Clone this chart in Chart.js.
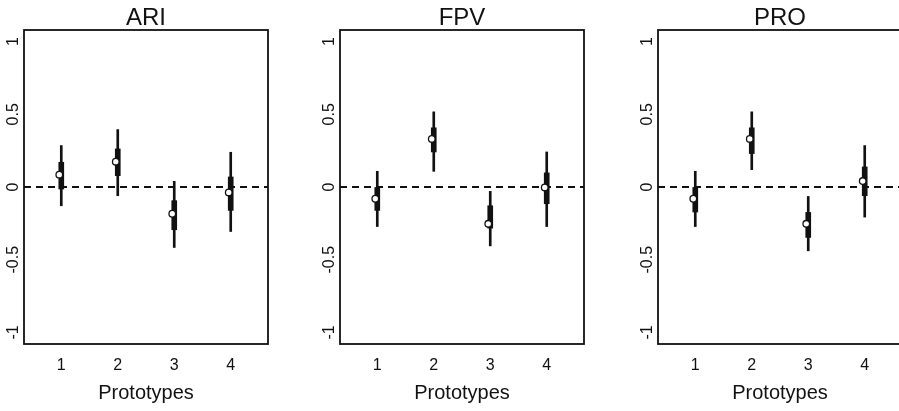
<!DOCTYPE html>
<html>
<head>
<meta charset="utf-8">
<script src="https://cdn.jsdelivr.net/npm/chart.js@4.4.0/dist/chart.umd.min.js"></script>
<style>
  html, body { margin: 0; padding: 0; background: #fff; overflow: hidden; width: 899px; height: 411px; }
  .panel { position: absolute; top: 0; width: 292px; height: 411px; }
</style>
</head>
<body>
<div class="panel" style="left:0px"><canvas id="ari"></canvas></div>
<div class="panel" style="left:316px"><canvas id="fpv"></canvas></div>
<div class="panel" style="left:634px"><canvas id="pro"></canvas></div>
<script>
// values
const prototypes = [1, 2, 3, 4];
const yTicks = [-1, -0.5, 0, 0.5, 1];

const ariEst  = [0.085, 0.174, -0.184, -0.037];
const ariLo95 = [-0.129, -0.060, -0.416, -0.306];
const ariHi95 = [0.285, 0.395, 0.039, 0.239];
const ariLo50 = [-0.014, 0.078, -0.294, -0.161];
const ariHi50 = [0.170, 0.262, -0.094, 0.069];

const fpvEst  = [-0.081, 0.331, -0.253, -0.003];
const fpvLo95 = [-0.272, 0.108, -0.405, -0.272];
const fpvHi95 = [0.108, 0.517, -0.030, 0.241];
const fpvLo50 = [-0.161, 0.241, -0.283, -0.115];
const fpvHi50 = [-0.003, 0.407, -0.129, 0.097];

const proEst  = [-0.081, 0.331, -0.253, 0.041];
const proLo95 = [-0.272, 0.119, -0.439, -0.207];
const proHi95 = [0.108, 0.517, -0.065, 0.285];
const proLo50 = [-0.172, 0.230, -0.347, -0.060];
const proHi50 = [-0.003, 0.407, -0.175, 0.138];

const INK = "#111";
const FONT = '"Liberation Sans", Arial, Helvetica, sans-serif';
const POINT_SHIFT = -0.035; // circle sits a hair left of the bar

// box round the plot, dashed zero line, rotated y labels
const framePlugin = {
  id: "frame",
  beforeDatasetsDraw(chart) {
    const { ctx, chartArea: a, scales: { y } } = chart;
    const py = y.getPixelForValue(0);
    ctx.save();
    ctx.strokeStyle = INK;
    ctx.lineWidth = 1.8;
    ctx.setLineDash([7, 5]);
    ctx.beginPath();
    ctx.moveTo(a.left, py);
    ctx.lineTo(a.right, py);
    ctx.stroke();
    ctx.restore();
  },
  afterDraw(chart) {
    const { ctx, chartArea: a, scales: { y } } = chart;
    ctx.save();
    ctx.strokeStyle = INK;
    ctx.lineWidth = 1.8;
    ctx.strokeRect(a.left, a.top, a.right - a.left, a.bottom - a.top);
    ctx.fillStyle = INK;
    ctx.font = "16px " + FONT;
    ctx.textAlign = "center";
    ctx.textBaseline = "middle";
    y.ticks.forEach((t) => {
      ctx.save();
      ctx.translate(a.left - 10, y.getPixelForValue(t.value));
      ctx.rotate(-Math.PI / 2);
      ctx.fillText(String(t.value), 0, 0);
      ctx.restore();
    });
    ctx.restore();
  }
};

function makePanel(id, title, est, lo95, hi95, lo50, hi50) {
  const thin = prototypes.map((p, i) => ({ x: p, y: [lo95[i], hi95[i]] }));
  const thick = prototypes.map((p, i) => ({ x: p, y: [lo50[i], hi50[i]] }));
  const pts = prototypes.map((p, i) => ({ x: p + POINT_SHIFT, y: est[i] }));
  new Chart(document.getElementById(id), {
    type: "bar",
    data: {
      datasets: [
        { type: "scatter", data: pts, pointRadius: 3.3, borderWidth: 1.3,
          borderColor: INK, backgroundColor: "#fff", pointBackgroundColor: "#fff", order: 1 },
        { data: thick, barThickness: 5, backgroundColor: INK, grouped: false, order: 2 },
        { data: thin, barThickness: 2, backgroundColor: INK, grouped: false, order: 3 }
      ]
    },
    options: {
      responsive: true,
      maintainAspectRatio: false,
      animation: false,
      layout: { padding: { left: 0, right: 24, top: 0, bottom: 0 } },
      plugins: {
        legend: { display: false },
        tooltip: { enabled: false },
        title: {
          display: true, text: title, color: INK, fullSize: false,
          font: { family: FONT, size: 24, weight: "normal", lineHeight: 1 },
          padding: { top: 6, bottom: 0 }
        }
      },
      scales: {
        x: {
          type: "linear", min: 0.34, max: 4.66, offset: false,
          grid: { display: false, drawTicks: false, offset: false },
          border: { display: false },
          afterBuildTicks: (s) => { s.ticks = prototypes.map((v) => ({ value: v })); },
          afterFit: (s) => { s.height = 67; },
          ticks: { color: INK, padding: 12, maxRotation: 0, font: { family: FONT, size: 16 },
                   callback: (v) => String(v) },
          title: { display: true, text: "Prototypes", color: INK,
                   font: { family: FONT, size: 20 }, padding: { top: 0, bottom: 6 } }
        },
        y: {
          min: -1.08, max: 1.08,
          grid: { display: false, drawTicks: false },
          border: { display: false },
          afterBuildTicks: (s) => { s.ticks = yTicks.map((v) => ({ value: v })); },
          afterFit: (s) => { s.width = 24; },
          ticks: { display: false }
        }
      }
    },
    plugins: [framePlugin]
  });
}

makePanel("ari", "ARI", ariEst, ariLo95, ariHi95, ariLo50, ariHi50);
makePanel("fpv", "FPV", fpvEst, fpvLo95, fpvHi95, fpvLo50, fpvHi50);
makePanel("pro", "PRO", proEst, proLo95, proHi95, proLo50, proHi50);
</script>
</body>
</html>
